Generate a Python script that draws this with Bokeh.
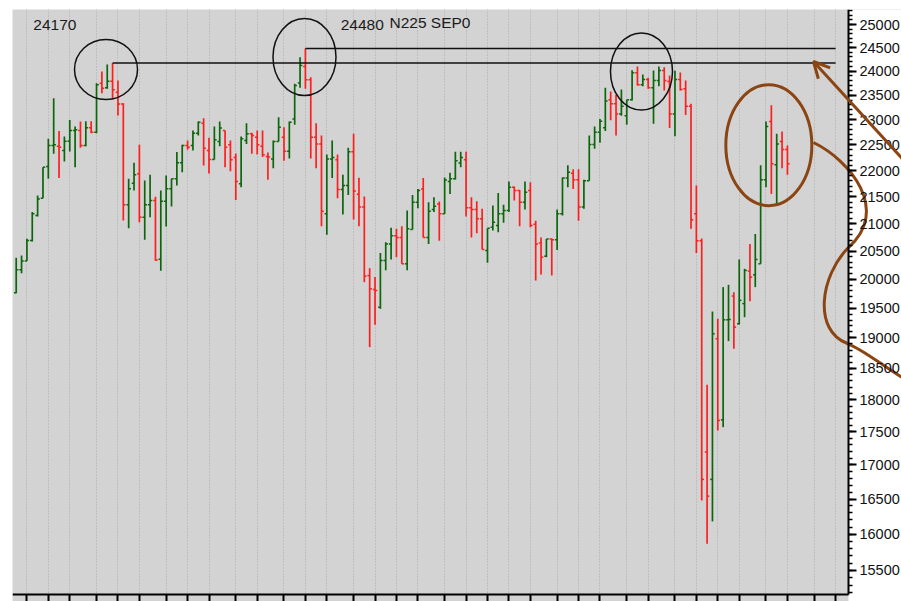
from bokeh.plotting import figure
from bokeh.models import (FixedTicker, Range1d, BoxAnnotation, Arrow, OpenHead, Grid,
                          CustomJSTickFormatter, LinearAxis, LogAxis, ColumnDataSource,
                          NumeralTickFormatter)
from bokeh.transform import dodge
from bokeh.core.properties import value
from bokeh.embed import file_html
from bokeh.resources import INLINE

# Weekly OHLC of N225 futures
opens = [19766, 20168, 20322, 20693, 21150, 21472, 22078, 22487, 22474, 22390,
         22572, 22784, 22784, 22487, 22838, 22751, 23749, 23652, 23791, 23562,
         23321, 21349, 21758, 21936, 21119, 21349, 21428, 20357, 21415, 21650,
         21841, 22149, 22487, 22487, 22730, 22930, 22390, 22214, 22566, 22785,
         22500, 22254, 21746, 22586, 22718, 22652, 22474, 22273, 22221, 22566,
         22652, 22376, 23017, 23750, 24098, 23820, 22652, 22519, 21182, 22221,
         22208, 21636, 21712, 22364, 21548, 21306, 20068, 19823, 19517, 20333,
         20629, 20777, 20747, 20274, 20893, 21396, 21648, 20747, 21262, 21365,
         21182, 21790, 21840, 22143, 22208, 21293, 21262, 21089, 20510, 20935,
         20965, 21182, 21244, 21680, 21617, 21396, 21617, 20990, 20647, 20410,
         20718, 20706, 21182, 21854, 21949, 21822, 21306, 21803, 22506, 22751,
         22838, 23404, 23323, 23116, 23083, 23404, 23965, 23715, 23826, 23653,
         23805, 24013, 23784, 23116, 23826, 23632, 23275, 21182, 20688, 17193,
         16786, 18985, 17686, 19304, 19710, 19237, 19580, 20145, 20080, 20274,
         21822, 22964, 22110, 22566, 22408]
highs = [20381, 20422, 20723, 21213, 21523, 22065, 22619, 23439, 22772, 22666,
         22997, 22866, 22963, 22970, 22970, 23749, 23992, 24140, 24170, 23805,
         23335, 21841, 22149, 22500, 21809, 21917, 21500, 21618, 21904, 21841,
         22357, 22500, 22586, 22784, 22963, 23030, 22639, 22866, 22964, 22785,
         22586, 22332, 22665, 22930, 22738, 22785, 22785, 22351, 22586, 23050,
         22851, 22964, 23736, 24296, 24480, 23870, 22930, 22685, 22312, 22586,
         22312, 21917, 22442, 22718, 21860, 21504, 20198, 20039, 20469, 20659,
         20923, 20905, 20953, 21243, 21535, 21648, 21854, 21396, 21491, 21410,
         21867, 21955, 22364, 22364, 22364, 21491, 21416, 21274, 20917, 21337,
         21573, 21349, 21789, 21693, 21629, 21789, 21776, 21051, 20747, 20718,
         20730, 21262, 21867, 22100, 22026, 22026, 21822, 22685, 22864, 23017,
         23653, 23577, 23507, 23618, 23404, 24020, 24098, 23929, 23860, 24013,
         24098, 24084, 23909, 24006, 23971, 23805, 23323, 21712, 20730, 18237,
         19444, 19321, 19864, 19904, 19777, 20351, 20186, 20629, 20808, 22100,
         22964, 23293, 22718, 22764, 22487]
lows = [19760, 20109, 20322, 20675, 21131, 21472, 21841, 22325, 21854, 22175,
        22370, 22065, 22442, 22474, 22730, 22730, 23541, 23632, 23424, 23084,
        21058, 20917, 21618, 21026, 20704, 21119, 20328, 20150, 20948, 21318,
        21713, 21968, 22403, 22390, 22685, 22097, 21943, 22214, 22474, 22065,
        21987, 21441, 21680, 22519, 22325, 22312, 22260, 21822, 22045, 22566,
        22189, 22234, 22898, 23653, 23633, 22234, 22045, 20953, 20797, 21854,
        21472, 21170, 21535, 21076, 20953, 19950, 18848, 19220, 19490, 20159,
        20351, 20392, 20274, 20159, 20893, 21287, 20747, 20629, 21213, 20688,
        21182, 21553, 21829, 22065, 21133, 20747, 20826, 20528, 20292, 20874,
        20844, 21014, 21213, 21429, 20953, 21262, 20935, 19979, 20086, 20392,
        20068, 20522, 21151, 21680, 21648, 21051, 21274, 21803, 22422, 22539,
        22772, 22989, 22685, 23083, 22898, 23391, 23701, 23687, 23632, 22918,
        23687, 23597, 22832, 22672, 23597, 23096, 20905, 20469, 16479, 15867,
        16180, 17520, 17572, 18947, 18820, 19226, 19349, 19619, 19864, 20274,
        21680, 21553, 21337, 22045, 21917]
closes = [20168, 20322, 20693, 21182, 21460, 22065, 22487, 22500, 22455, 22572,
          22784, 22800, 22487, 22838, 22751, 23714, 23645, 23791, 23611, 23321,
          21349, 21650, 21917, 21119, 21349, 21428, 20340, 21415, 21650, 21841,
          22149, 22487, 22455, 22730, 22950, 22435, 22214, 22599, 22832, 22455,
          22208, 21789, 22619, 22718, 22685, 22500, 22306, 22260, 22566, 22851,
          22376, 22951, 23701, 24119, 23820, 22652, 22519, 21231, 22221, 22254,
          21636, 21712, 22364, 21611, 21306, 20056, 19835, 19806, 20333, 20629,
          20777, 20747, 20274, 20905, 21396, 21617, 20747, 21231, 21324, 21182,
          21816, 21840, 22189, 22254, 21293, 21262, 21089, 20528, 20917, 21026,
          21182, 21244, 21680, 21617, 21396, 21585, 20965, 20629, 20392, 20718,
          20706, 21182, 21854, 21968, 21822, 21306, 21803, 22506, 22751, 22970,
          23383, 23323, 23116, 23275, 23404, 23965, 23715, 23826, 23653, 23805,
          24013, 23805, 23116, 23826, 23618, 23275, 21070, 20688, 16786, 16542,
          19068, 17676, 19304, 19310, 19181, 19636, 20157, 20039, 20351, 21822,
          22864, 22130, 22519, 22408, 22130]

# first weekly bar of each month (Oct 2017 ... Sep 2020)
month_starts = [2, 6, 10, 15, 19, 23, 28, 32, 36, 41, 45, 50, 54, 58, 63, 67, 71, 75,
                80, 84, 88, 92, 96, 101, 105, 109, 114, 118, 123, 127, 131, 135, 140,
                144, 149, 153]
y_ticks = list(range(15500, 25001, 500))
y_minor = list(range(15200, 25301, 100))

# marked highs
peak_idx = [18, 54]
line_end = 153
labels = ["24170", "24480", "N225 SEP0"]

GREEN = "#0c660c"
RED = "#ff1e1e"
BROWN = "#8B4513"

idx = list(range(len(opens)))
colors = [GREEN if c >= o else RED for o, c in zip(opens, closes)]
src = ColumnDataSource(dict(x=idx, o=opens, h=highs, l=lows, c=closes, color=colors))

AXIS_X = 155.4      # data x of the price axis
AXIS_Y = 15178      # data y of the date axis

p = figure(width=901, height=601, y_axis_type="log",
           x_range=Range1d(-0.69, 165.3), y_range=Range1d(15084, 25331),
           x_axis_location=None, y_axis_location=None,
           output_backend="svg", toolbar_location=None,
           min_border_left=12, min_border_top=9, min_border_right=0, min_border_bottom=0,
           background_fill_color="#d3d3d3", border_fill_color="white",
           outline_line_color=None)
p.xgrid.visible = False
p.ygrid.visible = False

# white area to the right of the price axis
p.add_layout(BoxAnnotation(left=AXIS_X, fill_color="white", fill_alpha=1.0,
                           line_color=None, level="underlay"))

grid = Grid(dimension=0, ticker=FixedTicker(ticks=month_starts),
            grid_line_color="#a9a9a9", grid_line_dash="1 2", grid_line_width=1)
p.add_layout(grid)

# OHLC bars
p.segment(x0="x", y0="l", x1="x", y1="h", line_color="color", line_width=1.7, source=src)
p.segment(x0=dodge("x", -0.42), y0="o", x1="x", y1="o", line_color="color",
          line_width=1.5, source=src)
p.segment(x0="x", y0="c", x1=dodge("x", 0.42), y1="c", line_color="color",
          line_width=1.5, source=src)

# resistance lines from the two highs
p.segment(x0=peak_idx, y0=[highs[i] for i in peak_idx],
          x1=[line_end] * 2, y1=[highs[i] for i in peak_idx],
          line_color="#111111", line_width=1.5)

# circles around the tops
p.ellipse(x=[16.77, 53.83, 116.75], y=[24034, 24299, 23992],
          width=[63, 63, 62], height=[60, 77, 77],
          width_units="screen", height_units="screen",
          fill_color=None, line_color="#111111", line_width=1.5)
p.ellipse(x=[140.53], y=[22493], width=[86], height=[121],
          width_units="screen", height_units="screen",
          fill_color=None, line_color=BROWN, line_width=3)

# brown freehand curve and arrow
p.bezier(x0=[148.86, 155.39, 155.21], y0=[22546, 20565, 18907],
         cx0=[155.77, 150.17, 158.57], cy0=[22193, 20067, 18792],
         cx1=[163.24, 148.68, 162.3], cy1=[21243, 19124, 18498],
         x1=[155.39, 155.21, 166.97], y1=[20565, 18907, 18273],
         line_color=BROWN, line_width=3)
p.add_layout(Arrow(end=OpenHead(size=16, line_color=BROWN, line_width=3),
                   x_start=166.97, y_start=22057, x_end=148.86, y_end=24203,
                   line_color=BROWN, line_width=3))

# texts
p.text(x=[3.2, 60.6, 69.7], y=[24980, 24980, 25044], text=labels,
       text_font=value("Liberation Sans"), text_font_size="15.5px",
       text_baseline="alphabetic", text_align="left", text_color="#1a1a1a")

# axes
yaxis = LogAxis(ticker=FixedTicker(ticks=y_ticks, minor_ticks=y_minor),
                formatter=NumeralTickFormatter(format="0"),
                fixed_location=AXIS_X, bounds=(AXIS_Y, 25331))
yaxis.axis_line_color = "black"
yaxis.axis_line_width = 2
yaxis.major_tick_in = 0
yaxis.major_tick_out = 8
yaxis.major_tick_line_width = 2
yaxis.minor_tick_in = 0
yaxis.minor_tick_out = 4
yaxis.minor_tick_line_width = 1.5
yaxis.major_label_standoff = 3
yaxis.major_label_text_font = "Liberation Sans"
yaxis.major_label_text_font_size = "14.5px"
yaxis.major_label_text_color = "#111111"
p.add_layout(yaxis, "right")

xaxis = LinearAxis(ticker=FixedTicker(ticks=month_starts),
                   formatter=CustomJSTickFormatter(code="return ''"),
                   fixed_location=AXIS_Y, bounds=(-0.69, AXIS_X))
xaxis.axis_line_color = "black"
xaxis.axis_line_width = 2
xaxis.major_tick_in = 0
xaxis.major_tick_out = 8
xaxis.major_tick_line_width = 2
xaxis.minor_tick_line_color = None
p.add_layout(xaxis, "below")

open("out.html", "w").write(file_html(p, INLINE))
